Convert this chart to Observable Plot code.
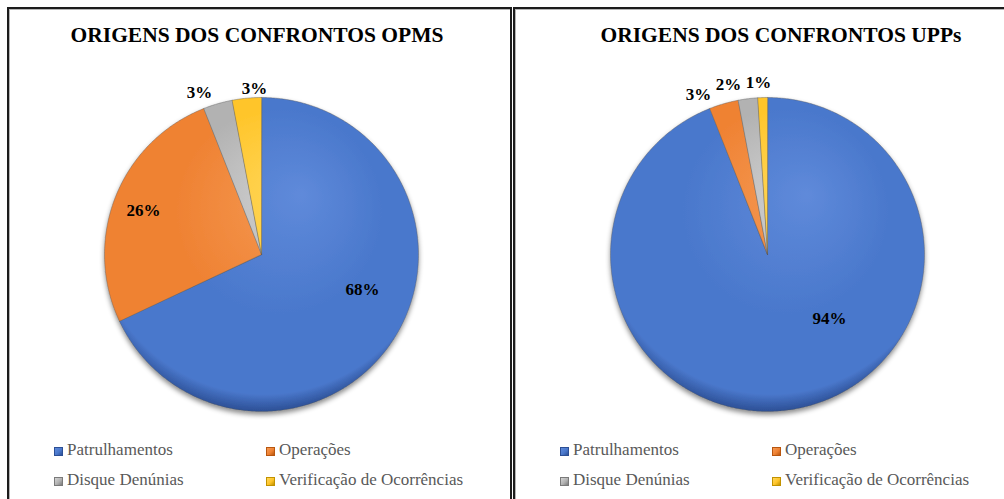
<!DOCTYPE html>
<html><head><meta charset="utf-8">
<script src="https://cdn.jsdelivr.net/npm/d3@7"></script>
<script src="https://cdn.jsdelivr.net/npm/@observablehq/plot@0.6"></script>
<style>
html,body{margin:0;padding:0;background:#fff;overflow:hidden;}
#root{position:relative;width:1004px;height:499px;overflow:hidden;font-family:'Liberation Serif','Times New Roman',serif;}
.panel{position:absolute;top:7px;height:530px;border:2px solid #1c1c1c;box-sizing:border-box;box-shadow:inset 1px 1px 0 #b5b5b5;}
.title{position:absolute;font-family:'Liberation Serif','Times New Roman',serif;font-weight:bold;font-size:21.5px;line-height:21px;white-space:nowrap;transform:translateX(-50%);color:#000;}
.leg{position:absolute;font-family:'Liberation Serif','Times New Roman',serif;font-size:17px;line-height:17px;color:#595959;white-space:nowrap;}
.sw{position:absolute;width:9px;height:9px;box-sizing:border-box;}
.pie{position:absolute;}
</style>
</head><body><div id="root"></div>
<script>
// ---- data ----
const categories = ["Patrulhamentos", "Operações", "Disque Denúnias", "Verificação de Ocorrências"];
const titles = ["ORIGENS DOS CONFRONTOS OPMS", "ORIGENS DOS CONFRONTOS UPPs"];
const opmsValues = [68, 26, 3, 3];
const uppsValues = [94, 3, 2, 1];

// ---- styling / layout (kept apart from data) ----
const baseColors = ["#4a78cc", "#ef8233", "#b2b2b2", "#ffc52a"];
const lightColors = ["#5f8ada", "#f59a55", "#d4d4d4", "#ffd75c"];
const darkColors = ["#2c4f95", "#b8560f", "#7a7a7a", "#c29200"];
const panels = [
  {values: opmsValues, title: titles[0], left: 7, width: 505, titleX: 257,
   nudge: [[0.094, 0.125], [-0.148, 0.041], [-0.088, -0.024], [0.059, -0.038]]},
  {values: uppsValues, title: titles[1], left: 513, width: 540, titleX: 781,
   nudge: [[0.273, 0.230], [-0.132, -0.037], [-0.110, -0.008], [-0.022, -0.007]]}
];
const R = 157, CX = 252, CY = 245; // pie center inside each svg
const root = document.getElementById("root");

panels.forEach((p, k) => {
  const off = k === 0 ? 0 : 506;
  const panel = document.createElement("div");
  panel.className = "panel";
  panel.style.left = p.left + "px";
  panel.style.width = p.width + "px";
  root.appendChild(panel);

  const t = document.createElement("div");
  t.className = "title";
  t.textContent = p.title;
  t.style.left = p.titleX + "px";
  t.style.top = "25px";
  root.appendChild(t);

  // pie geometry from d3.pie
  const arcs = d3.pie().sort(null).value(d => d)(p.values);
  const pts = [];
  const labels = [];
  arcs.forEach((a, i) => {
    const cat = categories[i];
    pts.push({cat, x: 0, y: 0});
    const n = Math.max(2, Math.ceil((a.endAngle - a.startAngle) / 0.01));
    for (let j = 0; j <= n; j++) {
      const ang = a.startAngle + (a.endAngle - a.startAngle) * j / n;
      pts.push({cat, x: Math.sin(ang), y: Math.cos(ang)});
    }
    const mid = (a.startAngle + a.endAngle) / 2;
    const rr = a.data > 10 ? 0.65 : 1.1;
    labels.push({
      x: rr * Math.sin(mid) + p.nudge[i][0],
      y: rr * Math.cos(mid) + p.nudge[i][1],
      text: a.data + "%"
    });
  });

  const svg = Plot.plot({
    width: 500, height: 490,
    marginTop: 0, marginRight: 0, marginBottom: 0, marginLeft: 0,
    style: {background: "transparent", overflow: "visible"},
    x: {domain: [-1, 1], range: [CX - R, CX + R], axis: null},
    y: {domain: [-1, 1], range: [CY + R, CY - R], axis: null},
    color: {type: "ordinal", domain: categories, range: categories.map((_, i) => `url(#g${k}_${i})`)},
    marks: [
      Plot.line(pts, {x: "x", y: "y", z: "cat", fill: "cat", stroke: "#5a5a5a", strokeWidth: 0.6,
        strokeOpacity: 0.7, curve: "linear-closed", strokeLinejoin: "round"}),
      Plot.text(labels, {x: "x", y: "y", text: "text", fontSize: 17, fontWeight: "bold",
        fontFamily: "'Liberation Serif', 'Times New Roman', serif", fill: "#000"})
    ]
  });
  svg.classList.add("pie");
  svg.style.left = (p.left + 2) + "px";
  svg.style.top = "9px";
  const ns = "http://www.w3.org/2000/svg";
  const defs = document.createElementNS(ns, "defs");
  categories.forEach((_, i) => {
    const g = document.createElementNS(ns, "radialGradient");
    g.setAttribute("id", `g${k}_${i}`);
    g.setAttribute("gradientUnits", "userSpaceOnUse");
    g.setAttribute("cx", CX); g.setAttribute("cy", CY - 30); g.setAttribute("r", R + 30);
    g.setAttribute("fx", CX + 40); g.setAttribute("fy", CY - 60);
    [[0, lightColors[i]], [0.55, baseColors[i]], [0.92, baseColors[i]], [1, darkColors[i]]].forEach(([o, c]) => {
      const s = document.createElementNS(ns, "stop");
      s.setAttribute("offset", o); s.setAttribute("stop-color", c);
      g.appendChild(s);
    });
    defs.appendChild(g);
  });
  const f = document.createElementNS(ns, "filter");
  f.setAttribute("id", `sh${k}`);
  f.setAttribute("x", "-20%"); f.setAttribute("y", "-20%"); f.setAttribute("width", "140%"); f.setAttribute("height", "140%");
  const ds = document.createElementNS(ns, "feDropShadow");
  ds.setAttribute("dx", "0"); ds.setAttribute("dy", "3"); ds.setAttribute("stdDeviation", "2.5");
  ds.setAttribute("flood-color", "#000"); ds.setAttribute("flood-opacity", "0.45");
  f.appendChild(ds); defs.appendChild(f);
  svg.insertBefore(defs, svg.firstChild);
  const lineG = svg.querySelector("g[aria-label='line']");
  if (lineG) lineG.setAttribute("filter", `url(#sh${k})`);
  root.appendChild(svg);

  // legend
  const legPos = [[54, 441], [266, 441], [54, 471], [266, 471]];
  categories.forEach((c, i) => {
    const sw = document.createElement("div");
    sw.className = "sw";
    sw.style.left = (legPos[i][0] + off) + "px";
    sw.style.top = (legPos[i][1] + 6) + "px";
    sw.style.background = `linear-gradient(135deg, ${lightColors[i]}, ${baseColors[i]} 55%, ${darkColors[i]})`;
    sw.style.border = `1px solid ${darkColors[i]}`;
    root.appendChild(sw);
    const tx = document.createElement("div");
    tx.className = "leg";
    tx.textContent = c;
    tx.style.left = (legPos[i][0] + 13 + off) + "px";
    tx.style.top = legPos[i][1] + "px";
    root.appendChild(tx);
  });
});
</script>
</body></html>
